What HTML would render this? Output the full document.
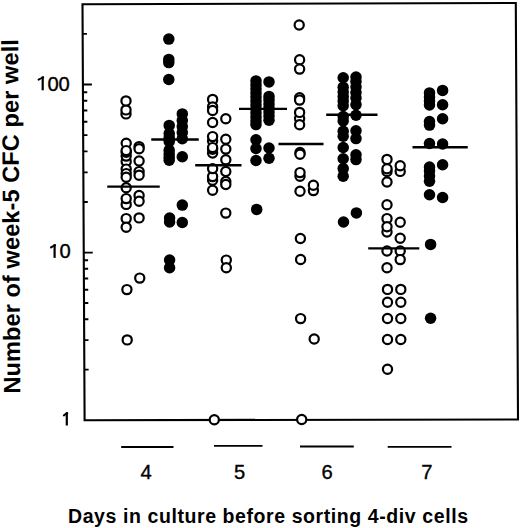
<!DOCTYPE html>
<html><head><meta charset="utf-8"><style>
html,body{margin:0;padding:0;background:#fff;}
body{width:520px;height:528px;overflow:hidden;font-family:"Liberation Sans",sans-serif;}
svg{display:block;}
</style></head><body>
<svg width="520" height="528" viewBox="0 0 520 528">
<path d="M82.5 4.2 L515.8 3.0 L518.0 419.5 L84.6 420.2 Z" fill="none" stroke="#000" stroke-width="2.1"/>
<path d="M84.34 369.61h4.3 M84.20 340.13h4.3 M84.09 319.22h4.3 M84.01 302.99h4.3 M83.94 289.74h4.3 M83.88 278.53h4.3 M83.84 268.82h4.3 M83.79 260.26h4.3 M83.75 252.60h9 M83.50 202.00h4.3 M83.35 172.40h4.3 M83.24 151.39h4.3 M83.16 135.10h4.3 M83.09 121.79h4.3 M83.04 110.54h4.3 M82.99 100.79h4.3 M82.94 92.19h4.3 M82.91 84.50h9 M82.65 33.90h4.3" stroke="#000" stroke-width="1.9" fill="none"/>
<circle cx="126.0" cy="113.9" r="4.6" fill="#fff" stroke="#000" stroke-width="2.2"/>
<circle cx="126.0" cy="109.9" r="4.6" fill="#fff" stroke="#000" stroke-width="2.2"/>
<circle cx="126.0" cy="100.9" r="4.6" fill="#fff" stroke="#000" stroke-width="2.2"/>
<circle cx="126.2" cy="161.5" r="4.6" fill="#fff" stroke="#000" stroke-width="2.2"/>
<circle cx="126.2" cy="156.1" r="4.6" fill="#fff" stroke="#000" stroke-width="2.2"/>
<circle cx="126.2" cy="152.3" r="4.6" fill="#fff" stroke="#000" stroke-width="2.2"/>
<circle cx="126.2" cy="143.3" r="4.6" fill="#fff" stroke="#000" stroke-width="2.2"/>
<circle cx="126.2" cy="150.6" r="4.6" fill="#fff" stroke="#000" stroke-width="2.2"/>
<circle cx="126.2" cy="169.1" r="4.6" fill="#fff" stroke="#000" stroke-width="2.2"/>
<circle cx="126.2" cy="173.6" r="4.6" fill="#fff" stroke="#000" stroke-width="2.2"/>
<circle cx="126.2" cy="177.3" r="4.6" fill="#fff" stroke="#000" stroke-width="2.2"/>
<circle cx="126.2" cy="187.8" r="4.6" fill="#fff" stroke="#000" stroke-width="2.2"/>
<circle cx="126.2" cy="204.4" r="4.6" fill="#fff" stroke="#000" stroke-width="2.2"/>
<circle cx="126.2" cy="198.6" r="4.6" fill="#fff" stroke="#000" stroke-width="2.2"/>
<circle cx="126.2" cy="218.6" r="4.6" fill="#fff" stroke="#000" stroke-width="2.2"/>
<circle cx="126.2" cy="227.2" r="4.6" fill="#fff" stroke="#000" stroke-width="2.2"/>
<circle cx="126.9" cy="289.6" r="4.6" fill="#fff" stroke="#000" stroke-width="2.2"/>
<circle cx="127.2" cy="339.9" r="4.6" fill="#fff" stroke="#000" stroke-width="2.2"/>
<circle cx="139.1" cy="146.6" r="4.6" fill="#fff" stroke="#000" stroke-width="2.2"/>
<circle cx="139.1" cy="148.7" r="4.6" fill="#fff" stroke="#000" stroke-width="2.2"/>
<circle cx="139.1" cy="161.0" r="4.6" fill="#fff" stroke="#000" stroke-width="2.2"/>
<circle cx="139.1" cy="171.6" r="4.6" fill="#fff" stroke="#000" stroke-width="2.2"/>
<circle cx="139.1" cy="175.2" r="4.6" fill="#fff" stroke="#000" stroke-width="2.2"/>
<circle cx="139.1" cy="195.5" r="4.6" fill="#fff" stroke="#000" stroke-width="2.2"/>
<circle cx="139.1" cy="201.2" r="4.6" fill="#fff" stroke="#000" stroke-width="2.2"/>
<circle cx="139.1" cy="217.9" r="4.6" fill="#fff" stroke="#000" stroke-width="2.2"/>
<circle cx="139.75" cy="278.1" r="4.6" fill="#fff" stroke="#000" stroke-width="2.2"/>
<circle cx="212.6" cy="99.4" r="4.6" fill="#fff" stroke="#000" stroke-width="2.2"/>
<circle cx="212.6" cy="106.9" r="4.6" fill="#fff" stroke="#000" stroke-width="2.2"/>
<circle cx="212.6" cy="110.5" r="4.6" fill="#fff" stroke="#000" stroke-width="2.2"/>
<circle cx="212.6" cy="122.5" r="4.6" fill="#fff" stroke="#000" stroke-width="2.2"/>
<circle cx="212.6" cy="141.0" r="4.6" fill="#fff" stroke="#000" stroke-width="2.2"/>
<circle cx="212.6" cy="136.6" r="4.6" fill="#fff" stroke="#000" stroke-width="2.2"/>
<circle cx="212.6" cy="153.0" r="4.6" fill="#fff" stroke="#000" stroke-width="2.2"/>
<circle cx="212.6" cy="149.2" r="4.6" fill="#fff" stroke="#000" stroke-width="2.2"/>
<circle cx="212.6" cy="147.6" r="4.6" fill="#fff" stroke="#000" stroke-width="2.2"/>
<circle cx="212.6" cy="180.3" r="4.6" fill="#fff" stroke="#000" stroke-width="2.2"/>
<circle cx="212.6" cy="176.6" r="4.6" fill="#fff" stroke="#000" stroke-width="2.2"/>
<circle cx="212.6" cy="168.6" r="4.6" fill="#fff" stroke="#000" stroke-width="2.2"/>
<circle cx="212.6" cy="190.3" r="4.6" fill="#fff" stroke="#000" stroke-width="2.2"/>
<circle cx="225.8" cy="118.7" r="4.6" fill="#fff" stroke="#000" stroke-width="2.2"/>
<circle cx="225.8" cy="139.2" r="4.6" fill="#fff" stroke="#000" stroke-width="2.2"/>
<circle cx="225.8" cy="149.1" r="4.6" fill="#fff" stroke="#000" stroke-width="2.2"/>
<circle cx="225.8" cy="159.8" r="4.6" fill="#fff" stroke="#000" stroke-width="2.2"/>
<circle cx="225.8" cy="171.5" r="4.6" fill="#fff" stroke="#000" stroke-width="2.2"/>
<circle cx="225.8" cy="181.5" r="4.6" fill="#fff" stroke="#000" stroke-width="2.2"/>
<circle cx="225.8" cy="184.5" r="4.6" fill="#fff" stroke="#000" stroke-width="2.2"/>
<circle cx="225.8" cy="213.1" r="4.6" fill="#fff" stroke="#000" stroke-width="2.2"/>
<circle cx="226.3" cy="260.1" r="4.6" fill="#fff" stroke="#000" stroke-width="2.2"/>
<circle cx="226.3" cy="267.8" r="4.6" fill="#fff" stroke="#000" stroke-width="2.2"/>
<circle cx="214.3" cy="419.8" r="4.6" fill="#fff" stroke="#000" stroke-width="2.2"/>
<circle cx="299.2" cy="25.0" r="4.6" fill="#fff" stroke="#000" stroke-width="2.2"/>
<circle cx="299.6" cy="59.7" r="4.6" fill="#fff" stroke="#000" stroke-width="2.2"/>
<circle cx="299.6" cy="69.1" r="4.6" fill="#fff" stroke="#000" stroke-width="2.2"/>
<circle cx="299.6" cy="97.8" r="4.6" fill="#fff" stroke="#000" stroke-width="2.2"/>
<circle cx="299.6" cy="100.1" r="4.6" fill="#fff" stroke="#000" stroke-width="2.2"/>
<circle cx="299.6" cy="118.6" r="4.6" fill="#fff" stroke="#000" stroke-width="2.2"/>
<circle cx="299.6" cy="112.4" r="4.6" fill="#fff" stroke="#000" stroke-width="2.2"/>
<circle cx="299.6" cy="124.8" r="4.6" fill="#fff" stroke="#000" stroke-width="2.2"/>
<circle cx="300.0" cy="152.5" r="4.6" fill="#fff" stroke="#000" stroke-width="2.2"/>
<circle cx="300.0" cy="154.3" r="4.6" fill="#fff" stroke="#000" stroke-width="2.2"/>
<circle cx="300.0" cy="176.2" r="4.6" fill="#fff" stroke="#000" stroke-width="2.2"/>
<circle cx="300.0" cy="172.6" r="4.6" fill="#fff" stroke="#000" stroke-width="2.2"/>
<circle cx="300.0" cy="191.2" r="4.6" fill="#fff" stroke="#000" stroke-width="2.2"/>
<circle cx="313.4" cy="190.6" r="4.6" fill="#fff" stroke="#000" stroke-width="2.2"/>
<circle cx="313.4" cy="185.3" r="4.6" fill="#fff" stroke="#000" stroke-width="2.2"/>
<circle cx="300.4" cy="238.5" r="4.6" fill="#fff" stroke="#000" stroke-width="2.2"/>
<circle cx="300.6" cy="259.5" r="4.6" fill="#fff" stroke="#000" stroke-width="2.2"/>
<circle cx="300.6" cy="318.6" r="4.6" fill="#fff" stroke="#000" stroke-width="2.2"/>
<circle cx="314.2" cy="339.0" r="4.6" fill="#fff" stroke="#000" stroke-width="2.2"/>
<circle cx="301.7" cy="419.5" r="4.6" fill="#fff" stroke="#000" stroke-width="2.2"/>
<circle cx="387.0" cy="159.4" r="4.6" fill="#fff" stroke="#000" stroke-width="2.2"/>
<circle cx="387.0" cy="171.4" r="4.6" fill="#fff" stroke="#000" stroke-width="2.2"/>
<circle cx="387.0" cy="168.7" r="4.6" fill="#fff" stroke="#000" stroke-width="2.2"/>
<circle cx="387.0" cy="182.0" r="4.6" fill="#fff" stroke="#000" stroke-width="2.2"/>
<circle cx="387.0" cy="204.8" r="4.6" fill="#fff" stroke="#000" stroke-width="2.2"/>
<circle cx="387.0" cy="232.0" r="4.6" fill="#fff" stroke="#000" stroke-width="2.2"/>
<circle cx="387.0" cy="218.6" r="4.6" fill="#fff" stroke="#000" stroke-width="2.2"/>
<circle cx="387.0" cy="226.7" r="4.6" fill="#fff" stroke="#000" stroke-width="2.2"/>
<circle cx="387.0" cy="251.0" r="4.6" fill="#fff" stroke="#000" stroke-width="2.2"/>
<circle cx="387.0" cy="267.7" r="4.6" fill="#fff" stroke="#000" stroke-width="2.2"/>
<circle cx="387.5" cy="289.4" r="4.6" fill="#fff" stroke="#000" stroke-width="2.2"/>
<circle cx="387.5" cy="302.3" r="4.6" fill="#fff" stroke="#000" stroke-width="2.2"/>
<circle cx="387.5" cy="318.5" r="4.6" fill="#fff" stroke="#000" stroke-width="2.2"/>
<circle cx="387.5" cy="339.5" r="4.6" fill="#fff" stroke="#000" stroke-width="2.2"/>
<circle cx="387.5" cy="369.2" r="4.6" fill="#fff" stroke="#000" stroke-width="2.2"/>
<circle cx="400.2" cy="171.4" r="4.6" fill="#fff" stroke="#000" stroke-width="2.2"/>
<circle cx="400.2" cy="165.7" r="4.6" fill="#fff" stroke="#000" stroke-width="2.2"/>
<circle cx="400.2" cy="222.3" r="4.6" fill="#fff" stroke="#000" stroke-width="2.2"/>
<circle cx="400.2" cy="238.3" r="4.6" fill="#fff" stroke="#000" stroke-width="2.2"/>
<circle cx="400.2" cy="251.0" r="4.6" fill="#fff" stroke="#000" stroke-width="2.2"/>
<circle cx="400.2" cy="259.6" r="4.6" fill="#fff" stroke="#000" stroke-width="2.2"/>
<circle cx="400.8" cy="289.4" r="4.6" fill="#fff" stroke="#000" stroke-width="2.2"/>
<circle cx="400.8" cy="302.3" r="4.6" fill="#fff" stroke="#000" stroke-width="2.2"/>
<circle cx="400.8" cy="318.5" r="4.6" fill="#fff" stroke="#000" stroke-width="2.2"/>
<circle cx="400.8" cy="339.5" r="4.6" fill="#fff" stroke="#000" stroke-width="2.2"/>
<circle cx="168.8" cy="39.1" r="5.75" fill="#000"/>
<circle cx="168.8" cy="59.4" r="5.75" fill="#000"/>
<circle cx="168.8" cy="62.6" r="5.75" fill="#000"/>
<circle cx="168.8" cy="79.5" r="5.75" fill="#000"/>
<circle cx="169.2" cy="125.4" r="5.75" fill="#000"/>
<circle cx="169.2" cy="133.6" r="5.75" fill="#000"/>
<circle cx="169.2" cy="137.5" r="5.75" fill="#000"/>
<circle cx="169.2" cy="141.4" r="5.75" fill="#000"/>
<circle cx="169.2" cy="150.2" r="5.75" fill="#000"/>
<circle cx="169.2" cy="154.0" r="5.75" fill="#000"/>
<circle cx="169.2" cy="157.2" r="5.75" fill="#000"/>
<circle cx="169.2" cy="160.3" r="5.75" fill="#000"/>
<circle cx="182.3" cy="113.9" r="5.75" fill="#000"/>
<circle cx="182.3" cy="120.5" r="5.75" fill="#000"/>
<circle cx="182.3" cy="126.5" r="5.75" fill="#000"/>
<circle cx="182.3" cy="132.5" r="5.75" fill="#000"/>
<circle cx="182.3" cy="138.8" r="5.75" fill="#000"/>
<circle cx="182.3" cy="156.8" r="5.75" fill="#000"/>
<circle cx="182.3" cy="205.1" r="5.75" fill="#000"/>
<circle cx="182.3" cy="222.5" r="5.75" fill="#000"/>
<circle cx="169.6" cy="218.0" r="5.75" fill="#000"/>
<circle cx="169.6" cy="222.0" r="5.75" fill="#000"/>
<circle cx="169.6" cy="260.1" r="5.75" fill="#000"/>
<circle cx="169.6" cy="267.8" r="5.75" fill="#000"/>
<circle cx="256.0" cy="80.9" r="5.75" fill="#000"/>
<circle cx="256.0" cy="85" r="5.75" fill="#000"/>
<circle cx="256.0" cy="89" r="5.75" fill="#000"/>
<circle cx="256.0" cy="93" r="5.75" fill="#000"/>
<circle cx="256.0" cy="97" r="5.75" fill="#000"/>
<circle cx="256.0" cy="101" r="5.75" fill="#000"/>
<circle cx="256.0" cy="105" r="5.75" fill="#000"/>
<circle cx="256.0" cy="109" r="5.75" fill="#000"/>
<circle cx="256.0" cy="113" r="5.75" fill="#000"/>
<circle cx="256.0" cy="117" r="5.75" fill="#000"/>
<circle cx="256.0" cy="121" r="5.75" fill="#000"/>
<circle cx="256.0" cy="124.6" r="5.75" fill="#000"/>
<circle cx="256.0" cy="139.7" r="5.75" fill="#000"/>
<circle cx="256.0" cy="148.5" r="5.75" fill="#000"/>
<circle cx="256.0" cy="160.5" r="5.75" fill="#000"/>
<circle cx="256.7" cy="209.4" r="5.75" fill="#000"/>
<circle cx="269.0" cy="81.9" r="5.75" fill="#000"/>
<circle cx="269.0" cy="96.4" r="5.75" fill="#000"/>
<circle cx="269.0" cy="100" r="5.75" fill="#000"/>
<circle cx="269.0" cy="104" r="5.75" fill="#000"/>
<circle cx="269.0" cy="108" r="5.75" fill="#000"/>
<circle cx="269.0" cy="112" r="5.75" fill="#000"/>
<circle cx="269.0" cy="116" r="5.75" fill="#000"/>
<circle cx="269.0" cy="120.3" r="5.75" fill="#000"/>
<circle cx="269.0" cy="148.0" r="5.75" fill="#000"/>
<circle cx="269.0" cy="158.3" r="5.75" fill="#000"/>
<circle cx="343.2" cy="77.8" r="5.75" fill="#000"/>
<circle cx="343.2" cy="87.3" r="5.75" fill="#000"/>
<circle cx="343.2" cy="92" r="5.75" fill="#000"/>
<circle cx="343.2" cy="96.5" r="5.75" fill="#000"/>
<circle cx="343.2" cy="101" r="5.75" fill="#000"/>
<circle cx="343.2" cy="105.7" r="5.75" fill="#000"/>
<circle cx="343.2" cy="116.5" r="5.75" fill="#000"/>
<circle cx="343.2" cy="121" r="5.75" fill="#000"/>
<circle cx="343.2" cy="131.2" r="5.75" fill="#000"/>
<circle cx="343.2" cy="136.3" r="5.75" fill="#000"/>
<circle cx="343.2" cy="147.5" r="5.75" fill="#000"/>
<circle cx="343.2" cy="158.7" r="5.75" fill="#000"/>
<circle cx="343.2" cy="168.6" r="5.75" fill="#000"/>
<circle cx="343.2" cy="176.3" r="5.75" fill="#000"/>
<circle cx="343.5" cy="222.0" r="5.75" fill="#000"/>
<circle cx="356.0" cy="77.0" r="5.75" fill="#000"/>
<circle cx="356.0" cy="81.5" r="5.75" fill="#000"/>
<circle cx="356.0" cy="87.0" r="5.75" fill="#000"/>
<circle cx="356.0" cy="92.5" r="5.75" fill="#000"/>
<circle cx="356.0" cy="98.0" r="5.75" fill="#000"/>
<circle cx="356.0" cy="104.6" r="5.75" fill="#000"/>
<circle cx="356.0" cy="115.3" r="5.75" fill="#000"/>
<circle cx="356.0" cy="130.7" r="5.75" fill="#000"/>
<circle cx="356.0" cy="138.6" r="5.75" fill="#000"/>
<circle cx="356.0" cy="154.8" r="5.75" fill="#000"/>
<circle cx="356.0" cy="159.6" r="5.75" fill="#000"/>
<circle cx="356.4" cy="212.9" r="5.75" fill="#000"/>
<circle cx="429.5" cy="92.9" r="5.75" fill="#000"/>
<circle cx="429.5" cy="97" r="5.75" fill="#000"/>
<circle cx="429.5" cy="101" r="5.75" fill="#000"/>
<circle cx="429.5" cy="104.9" r="5.75" fill="#000"/>
<circle cx="429.5" cy="121.5" r="5.75" fill="#000"/>
<circle cx="429.5" cy="125.1" r="5.75" fill="#000"/>
<circle cx="429.5" cy="143.5" r="5.75" fill="#000"/>
<circle cx="429.5" cy="167.0" r="5.75" fill="#000"/>
<circle cx="429.5" cy="171.0" r="5.75" fill="#000"/>
<circle cx="429.5" cy="176.0" r="5.75" fill="#000"/>
<circle cx="429.5" cy="181.2" r="5.75" fill="#000"/>
<circle cx="429.5" cy="194.8" r="5.75" fill="#000"/>
<circle cx="430.6" cy="244.4" r="5.75" fill="#000"/>
<circle cx="430.6" cy="318.3" r="5.75" fill="#000"/>
<circle cx="442.6" cy="90.4" r="5.75" fill="#000"/>
<circle cx="442.6" cy="104.8" r="5.75" fill="#000"/>
<circle cx="442.6" cy="118.7" r="5.75" fill="#000"/>
<circle cx="442.6" cy="144.0" r="5.75" fill="#000"/>
<circle cx="442.6" cy="164.75" r="5.75" fill="#000"/>
<circle cx="442.6" cy="197.5" r="5.75" fill="#000"/>
<line x1="107.25" y1="186.6" x2="159.75" y2="186.6" stroke="#000" stroke-width="2.4"/>
<line x1="151.25" y1="139.5" x2="198.75" y2="139.5" stroke="#000" stroke-width="2.4"/>
<line x1="195.2" y1="165.2" x2="241.5" y2="165.2" stroke="#000" stroke-width="2.4"/>
<line x1="239.0" y1="108.9" x2="287.0" y2="108.9" stroke="#000" stroke-width="2.4"/>
<line x1="278.5" y1="144.0" x2="323.5" y2="144.0" stroke="#000" stroke-width="2.4"/>
<line x1="326.2" y1="114.7" x2="377.5" y2="114.7" stroke="#000" stroke-width="2.4"/>
<line x1="368.2" y1="248.4" x2="419.3" y2="248.4" stroke="#000" stroke-width="2.4"/>
<line x1="412.5" y1="147.25" x2="467.75" y2="147.25" stroke="#000" stroke-width="2.4"/>
<line x1="121.2" y1="447.0" x2="173.5" y2="447.0" stroke="#000" stroke-width="1.8"/>
<line x1="214.0" y1="445.8" x2="262.5" y2="445.8" stroke="#000" stroke-width="1.8"/>
<line x1="300.0" y1="446.5" x2="353.8" y2="446.5" stroke="#000" stroke-width="1.8"/>
<line x1="387.7" y1="446.9" x2="451.5" y2="446.9" stroke="#000" stroke-width="1.8"/>
<text x="47.4" y="90.7" font-family="Liberation Sans" font-size="20.2" stroke="#000" stroke-width="0.35">00</text>
<text x="59.4" y="257.9" font-family="Liberation Sans" font-size="20.2" stroke="#000" stroke-width="0.35">0</text>
<path d="M42.70 76.40 V90.30" stroke="#000" stroke-width="2.2" fill="none"/><path d="M43.20 77.40 Q41.50 78.00 38.60 79.60" stroke="#000" stroke-width="2.0" fill="none" stroke-linecap="round"/>
<path d="M54.60 244.20 V257.90" stroke="#000" stroke-width="2.2" fill="none"/><path d="M55.10 245.20 Q53.40 245.80 51.00 247.40" stroke="#000" stroke-width="2.0" fill="none" stroke-linecap="round"/>
<path d="M66.80 412.20 V425.50" stroke="#000" stroke-width="2.2" fill="none"/><path d="M67.30 413.20 Q65.60 413.80 63.80 415.40" stroke="#000" stroke-width="2.0" fill="none" stroke-linecap="round"/>
<text x="146.0" y="478.5" text-anchor="middle" font-family="Liberation Sans" font-size="20.2" stroke="#000" stroke-width="0.35">4</text>
<text x="239.7" y="478.5" text-anchor="middle" font-family="Liberation Sans" font-size="20.2" stroke="#000" stroke-width="0.35">5</text>
<text x="327.0" y="478.5" text-anchor="middle" font-family="Liberation Sans" font-size="20.2" stroke="#000" stroke-width="0.35">6</text>
<text x="426.9" y="478.5" text-anchor="middle" font-family="Liberation Sans" font-size="20.2" stroke="#000" stroke-width="0.35">7</text>
<text x="68.0" y="522.8" font-family="Liberation Sans" font-weight="bold" font-size="19.5" textLength="400" lengthAdjust="spacing">Days in culture before sorting 4-div cells</text>
<text transform="translate(20.2 393.6) rotate(-90.34)" x="0" y="0" font-family="Liberation Sans" font-weight="bold" font-size="23.6" textLength="354.5" lengthAdjust="spacing">Number of week-5 CFC per well</text>
</svg>
</body></html>
